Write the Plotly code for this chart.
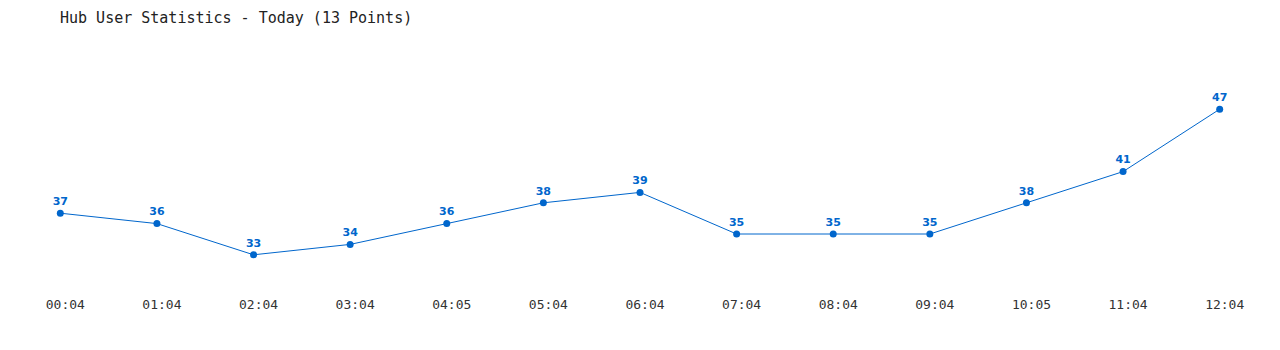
import plotly.graph_objects as go

times = ["00:04", "01:04", "02:04", "03:04", "04:05", "05:04", "06:04",
         "07:04", "08:04", "09:04", "10:05", "11:04", "12:04"]
users = [37, 36, 33, 34, 36, 38, 39, 35, 35, 35, 38, 41, 47]

blue = "#0066cc"
idx = list(range(len(times)))

fig = go.Figure(go.Scatter(
    x=idx, y=users, mode="lines+markers+text",
    line=dict(color=blue, width=1),
    marker=dict(color=blue, size=7),
    text=[str(v) for v in users], textposition="top center",
    textfont=dict(family="DejaVu Sans", size=11, color=blue, weight="bold"),
    cliponaxis=False, hoverinfo="skip",
))

fig.update_layout(
    width=1280, height=350,
    margin=dict(l=12, r=12, t=78, b=64),
    paper_bgcolor="white", plot_bgcolor="white",
    showlegend=False,
    title=dict(text="Hub User Statistics - Today (13 Points)",
               x=60/1280, xref="container", xanchor="left",
               y=1-18/350, yref="container", yanchor="middle",
               font=dict(family="DejaVu Sans Mono", size=15, color="#222")),
    xaxis=dict(range=[-0.5, 12.5], tickvals=idx, ticktext=times,
               showgrid=False, zeroline=False, showline=False, ticks="",
               ticklabelshift=5, ticklabelstandoff=9,
               tickfont=dict(family="DejaVu Sans Mono", size=13, color="#333")),
    yaxis=dict(range=[30, 50], visible=False, showgrid=False, zeroline=False),
)

fig.write_html("out.html")
